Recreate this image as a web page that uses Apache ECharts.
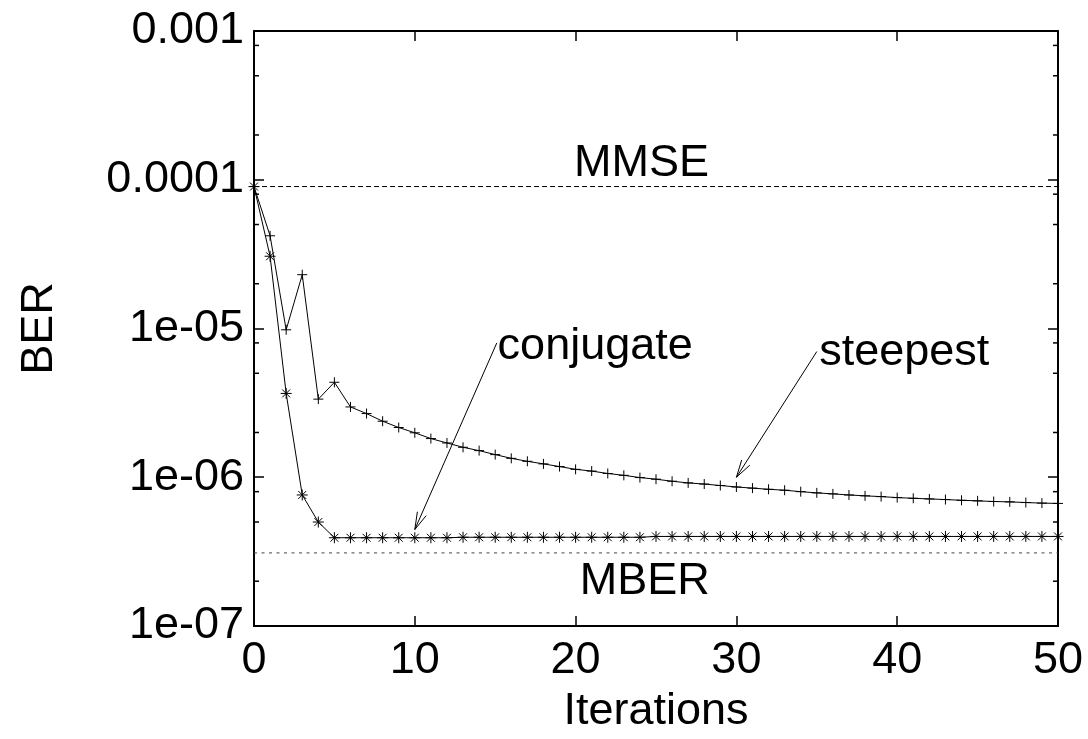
<!DOCTYPE html>
<html>
<head>
<meta charset="utf-8">
<script src="https://cdn.jsdelivr.net/npm/echarts@6/dist/echarts.min.js"></script>
<style>
  html, body { margin: 0; padding: 0; background: #fff; }
  #chart { width: 1088px; height: 739px; }
</style>
</head>
<body>
<div id="chart"></div>
<script>
// ---------------- data ----------------
const iterations = [0,1,2,3,4,5,6,7,8,9,10,11,12,13,14,15,16,17,18,19,20,21,22,23,24,25,26,27,28,29,30,31,32,33,34,35,36,37,38,39,40,41,42,43,44,45,46,47,48,49,50];
const steepest = [9.0e-5, 4.2e-5, 9.8e-6, 2.3e-5, 3.35e-6, 4.35e-6, 2.97e-6, 2.68e-6, 2.38e-6, 2.16e-6,
  1.99e-6, 1.82e-6, 1.70e-6, 1.59e-6, 1.51e-6, 1.42e-6, 1.34e-6, 1.28e-6, 1.23e-6, 1.18e-6,
  1.13e-6, 1.10e-6, 1.06e-6, 1.03e-6, 0.995e-6, 0.97e-6, 0.94e-6, 0.916e-6, 0.90e-6, 0.88e-6,
  0.86e-6, 0.845e-6, 0.83e-6, 0.818e-6, 0.80e-6, 0.785e-6, 0.773e-6, 0.76e-6, 0.75e-6, 0.741e-6,
  0.73e-6, 0.722e-6, 0.715e-6, 0.708e-6, 0.70e-6, 0.694e-6, 0.687e-6, 0.683e-6, 0.676e-6, 0.67e-6, 0.667e-6];
const conjugate = [9.0e-5, 3.06e-5, 3.66e-6, 7.6e-7, 5.0e-7, 3.92e-7, 3.92e-7, 3.92e-7, 3.92e-7, 3.92e-7,
  3.92e-7, 3.92e-7, 3.92e-7, 3.95e-7, 3.95e-7, 3.95e-7, 3.95e-7, 3.95e-7, 3.95e-7, 3.95e-7,
  3.95e-7, 3.95e-7, 3.95e-7, 3.95e-7, 3.95e-7, 4.0e-7, 4.0e-7, 4.0e-7, 4.0e-7, 4.0e-7,
  4.0e-7, 4.0e-7, 4.0e-7, 4.0e-7, 4.0e-7, 4.0e-7, 4.0e-7, 4.0e-7, 4.0e-7, 4.0e-7,
  4.0e-7, 4.0e-7, 4.0e-7, 4.0e-7, 4.0e-7, 4.0e-7, 4.0e-7, 4.0e-7, 4.0e-7, 4.0e-7, 4.0e-7];
const mmseLevel = 9.0e-5;
const mberLevel = 3.1e-7;

const xRange = [0, 50];
const yRange = [1e-7, 1e-3];
const xTicks = [0, 10, 20, 30, 40, 50];
const xTickLabels = ['0', '10', '20', '30', '40', '50'];
const yTicks = [1e-7, 1e-6, 1e-5, 1e-4, 1e-3];
const yTickLabels = ['1e-07', '1e-06', '1e-05', '0.0001', '0.001'];
const yMinorTicks = [2e-7, 5e-7, 8e-7, 2e-6, 5e-6, 8e-6, 2e-5, 5e-5, 8e-5, 2e-4, 5e-4, 8e-4];

const xTitle = 'Iterations';
const yTitle = 'BER';

// annotation texts: [text, x, y, align]
const annotations = [
  ['MMSE', 24.1, 1.28e-4, 'center'],
  ['MBER', 24.3, 2.0e-7, 'center'],
  ['conjugate', 15.15, 7.6e-6, 'left'],
  ['steepest', 35.15, 6.9e-6, 'left']
];
// arrows: [fromX, fromY, toX, toY]
const arrows = [
  [15.1, 8.0e-6, 10.0, 4.45e-7],
  [35.0, 7.0e-6, 30.0, 1.0e-6]
];

// ---------------- chart ----------------
const FONT = '45px "Liberation Sans", Arial, sans-serif';

const chart = echarts.init(document.getElementById('chart'), null, { renderer: 'canvas' });

const plusSym = 'path://M0,-1L0,1M-1,0L1,0';
const starSym = 'path://M0,-1L0,1M-1,0L1,0M-0.72,-0.72L0.72,0.72M-0.72,0.72L0.72,-0.72';

function axisCommon(extra) {
  return Object.assign({
    axisLine: { show: true, onZero: false, lineStyle: { color: '#000', width: 2 } },
    axisTick: { show: true, inside: true, length: 10, lineStyle: { color: '#000', width: 1.5 } },
    axisLabel: { show: false },
    splitLine: { show: false },
    minorTick: { show: false }
  }, extra);
}

const option = {
  animation: false,
  backgroundColor: '#fff',
  grid: { left: 254, right: 30, top: 31, bottom: 113, containLabel: false },
  xAxis: [
    axisCommon({ type: 'value', position: 'bottom', min: xRange[0], max: xRange[1], interval: 10 }),
    axisCommon({ type: 'value', position: 'top', min: xRange[0], max: xRange[1], interval: 10 })
  ],
  yAxis: [
    axisCommon({ type: 'log', logBase: 10, position: 'left', min: yRange[0], max: yRange[1] }),
    axisCommon({ type: 'log', logBase: 10, position: 'right', min: yRange[0], max: yRange[1] })
  ],
  series: [
    {
      name: 'MMSE', type: 'line', silent: true, symbol: 'none',
      data: [[xRange[0], mmseLevel], [xRange[1], mmseLevel]],
      lineStyle: { color: '#000', width: 1, type: [5, 3] }
    },
    {
      name: 'MBER', type: 'line', silent: true, symbol: 'none',
      data: [[xRange[0], mberLevel], [xRange[1], mberLevel]],
      lineStyle: { color: '#444', width: 1, type: [3, 4.5] }
    },
    {
      name: 'steepest', type: 'line', silent: true,
      data: iterations.map((x, i) => [x, steepest[i]]),
      symbol: plusSym, symbolSize: 10, showAllSymbol: true,
      lineStyle: { color: '#000', width: 1 },
      itemStyle: { color: 'none', borderColor: '#000', borderWidth: 1 }
    },
    {
      name: 'conjugate', type: 'line', silent: true,
      data: iterations.map((x, i) => [x, conjugate[i]]),
      symbol: starSym, symbolSize: 11, showAllSymbol: true,
      lineStyle: { color: '#000', width: 1 },
      itemStyle: { color: 'none', borderColor: '#000', borderWidth: 1 }
    },
    {
      name: 'minorTicks', type: 'custom', silent: true,
      data: yMinorTicks.map(v => [xRange[0], v]),
      renderItem: function (params, api) {
        const v = api.value(1);
        const pL = api.coord([xRange[0], v]);
        const pR = api.coord([xRange[1], v]);
        const st = { stroke: '#000', lineWidth: 1.5 };
        return {
          type: 'group',
          children: [
            { type: 'line', shape: { x1: pL[0], y1: pL[1], x2: pL[0] + 5, y2: pL[1] }, style: st },
            { type: 'line', shape: { x1: pR[0] - 5, y1: pR[1], x2: pR[0], y2: pR[1] }, style: st }
          ]
        };
      }
    },
    {
      name: 'arrows', type: 'custom', silent: true,
      data: arrows,
      encode: { x: [0, 2], y: [1, 3] },
      renderItem: function (params, api) {
        const a = api.coord([api.value(0), api.value(1)]);
        const b = api.coord([api.value(2), api.value(3)]);
        const ang = Math.atan2(b[1] - a[1], b[0] - a[0]);
        const L = 18, h = 0.27;
        const h1 = [b[0] - L * Math.cos(ang - h), b[1] - L * Math.sin(ang - h)];
        const h2 = [b[0] - L * Math.cos(ang + h), b[1] - L * Math.sin(ang + h)];
        const st = { stroke: '#000', lineWidth: 1, fill: 'none' };
        return {
          type: 'group',
          children: [
            { type: 'line', shape: { x1: a[0], y1: a[1], x2: b[0], y2: b[1] }, style: st },
            { type: 'polyline', shape: { points: [h1, b, h2] }, style: st }
          ]
        };
      }
    }
  ]
};

chart.setOption(option);

// ---- all lettering, placed through the chart's own coordinate system ----
function px(x, y) { return chart.convertToPixel({ gridIndex: 0 }, [x, y]); }
const g = [];
function addText(text, x, y, align, vAlign, extra) {
  g.push(Object.assign({
    type: 'text', x: x, y: y, silent: true,
    style: { text: text, font: FONT, fill: '#000', align: align, verticalAlign: vAlign }
  }, extra || {}));
}
const leftBottom = px(xRange[0], yRange[0]);
const rightTop = px(xRange[1], yRange[1]);
yTicks.forEach((v, i) => {
  const p = px(xRange[0], v);
  addText(yTickLabels[i], p[0] - 10, p[1], 'right', 'middle');
});
xTicks.forEach((v, i) => {
  const p = px(v, yRange[0]);
  addText(xTickLabels[i], p[0], p[1] + 35, 'center', 'middle');
});
addText(xTitle, (leftBottom[0] + rightTop[0]) / 2, leftBottom[1] + 86, 'center', 'middle');
addText(yTitle, 40, (leftBottom[1] + rightTop[1]) / 2, 'center', 'middle', { rotation: Math.PI / 2 });
annotations.forEach(a => {
  const p = px(a[1], a[2]);
  addText(a[0], p[0], p[1], a[3], 'middle');
});
chart.setOption({ graphic: { elements: g } });
</script>
</body>
</html>
